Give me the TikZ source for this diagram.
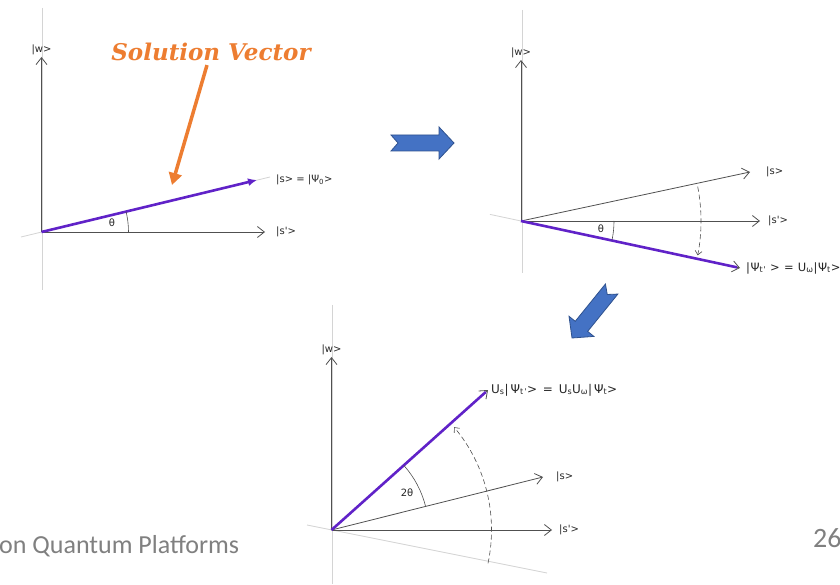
\documentclass[tikz,border=0pt]{standalone}
\usepackage{fontspec}
\setmainfont{Carlito}
\newfontfamily\labelfont{DejaVu Sans}
\newfontfamily\widelabelfont[LetterSpace=5]{DejaVu Sans}
\newfontfamily\widerlabelfont[LetterSpace=16]{DejaVu Sans}
\newfontfamily\titlefont{DejaVu Serif}
\usepackage{xcolor}
\usepackage{tikz}
\usetikzlibrary{positioning, arrows.meta, calc}
\definecolor{axiscolor}{RGB}{80, 80, 80}
\definecolor{faintcolor}{RGB}{212, 212, 212}
\definecolor{vectorcolor}{RGB}{96, 34, 200}
\definecolor{calloutcolor}{RGB}{237, 125, 49}
\definecolor{blockfill}{RGB}{68, 114, 196}
\definecolor{blockedge}{RGB}{47, 82, 143}
\definecolor{footcolor}{RGB}{128, 128, 128}

\begin{document}
\begin{tikzpicture}[
  x=1pt, y=1pt,
  font=\labelfont\fontsize{10}{12}\selectfont,
  axis/.style={draw=axiscolor, line width=0.8pt, -{Straight Barb[length=7pt,width=11pt]}},
  faint/.style={draw=faintcolor, line width=0.8pt},
  vec/.style={draw=vectorcolor, line width=2.6pt},
  vectip/.style={vec, -{Latex[length=9pt,width=8pt]}},
  anglearc/.style={draw=axiscolor, line width=0.6pt},
  swing/.style={draw=axiscolor, line width=0.6pt, dash pattern=on 5pt off 3pt, -{Straight Barb[length=4pt,width=7pt]}},
  lbl/.style={text=black!85, inner sep=1pt},
  callout/.style={draw=calloutcolor, line width=3.5pt, -{Triangle[length=12pt,width=13pt]}},
  title/.style={font=\titlefont\bfseries\itshape\fontsize{23}{26}\selectfont, text=calloutcolor, inner sep=0pt},
  foot/.style={font=\rmfamily\fontsize{26}{30}\selectfont, text=footcolor, inner sep=0pt},
  blockarrow/.pic={
    \path[fill=blockfill, draw=blockedge, line width=0.8pt]
      (-63,8) -- (-15,8) -- (-15,16) -- (0,0) -- (-15,-16) -- (-15,-8) -- (-63,-8) -- (-56,0) -- cycle;
  }
]
\useasboundingbox[fill=white] (0,0) rectangle (840,584);

% first state: |s> = |psi0>
\coordinate (oa) at (41.5,352);
\coordinate (wa) at (41.5,527);
\coordinate (spa) at (265,352);
\coordinate (psia) at (257,404);
\coordinate (hit) at (172,399);
\draw[faint] (42,576) -- (42,294);
\draw[faint] (21,347) -- (270,407);
\draw[axis] (oa) -- (wa);
\draw[axis] (oa) -- (spa);
\draw[vectip] (oa) -- (psia);
\draw[anglearc] (oa) ++(0:87) arc[start angle=0, end angle=13.5, radius=87];
\node[lbl] (thetaa) at (112,361) {θ};
\node[lbl, above=1pt of wa] (wlbla) {|w>};
\node[lbl, right=10pt of spa] (splbla) {|s'>};
\node[lbl, right=18pt of psia] (psilbla) {|s> = |Ψ\textsubscript{0}>};
\node[title] (solution) at (211,532) {Solution Vector};
\draw[callout] ([xshift=-4pt,yshift=-4pt]solution.south) -- (hit);

% oracle step
\pic at (454,441) {blockarrow};
\coordinate (ob) at (521,363);
\coordinate (wb) at (521,524);
\coordinate (sb) at (750,412);
\coordinate (spb) at (760,363);
\coordinate (psib) at (740,316);
\draw[faint] (522,574) -- (522,311);
\draw[faint] (490,369.6) -- (ob);
\draw[axis] (ob) -- (wb);
\draw[axis] (ob) -- (sb);
\draw[axis] (ob) -- (spb);
\draw[axis] (ob) -- (psib);
\draw[vec, shorten >=3pt] (ob) -- (psib);
\draw[anglearc] (ob) ++(0:93) arc[start angle=0, end angle=-12, radius=93];
\draw[swing] (ob) ++(11:180) arc[start angle=11, end angle=-11, radius=180];
\node[lbl] (thetab) at (601,355) {θ};
\node[lbl, above=1pt of wb] (wlblb) {|w>};
\node[lbl, right=15pt of sb] (slblb) {|s>};
\node[lbl, right=7pt of spb] (splblb) {|s'>};
\node[lbl, right=5pt of psib, font=\widelabelfont\fontsize{11.5}{13}\selectfont] (psilblb) {|Ψ\textsubscript{t'} > = U\textsubscript{ω}|Ψ\textsubscript{t}>};

% diffusion step
\pic[rotate=231] at (572,246) {blockarrow};
\coordinate (oc) at (331.5,54);
\coordinate (wc) at (331.5,227);
\coordinate (sc) at (543,107);
\coordinate (spc) at (552,54);
\coordinate (psic) at (488,194);
\draw[faint] (332,279) -- (332,0);
\draw[faint] (307,59) -- (547,11);
\draw[axis] (oc) -- (wc);
\draw[axis] (oc) -- (sc);
\draw[axis] (oc) -- (spc);
\draw[axis] (oc) -- (psic);
\draw[vec, shorten >=3pt] (oc) -- (psic);
\draw[anglearc] (oc) ++(14:97) arc[start angle=14, end angle=41.8, radius=97];
\draw[swing] (oc) ++(-12:160) arc[start angle=-12, end angle=40, radius=160];
\node[lbl] (thetac) at (407,91) {2θ};
\node[lbl, above=1pt of wc] (wlblc) {|w>};
\node[lbl, right=12pt of sc] (slblc) {|s>};
\node[lbl, right=6pt of spc] (splblc) {|s'>};
\node[lbl, right=2pt of psic, font=\widerlabelfont\fontsize{12}{14}\selectfont] (psilblc) {U\textsubscript{s}|Ψ\textsubscript{t'}> = U\textsubscript{s}U\textsubscript{ω}|Ψ\textsubscript{t}>};

% slide footer
\node[foot, anchor=base west] (footer) at (-1,31) {on Quantum Platforms};
\node[foot, anchor=base west, font=\rmfamily\fontsize{28}{32}\selectfont] (pagenum) at (813,37) {26};
\end{tikzpicture}
\end{document}
